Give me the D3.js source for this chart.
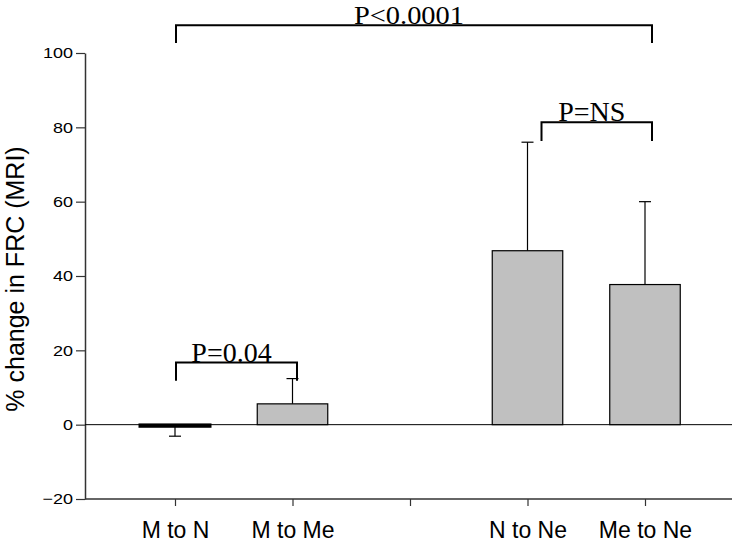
<!DOCTYPE html>
<html>
<head>
<meta charset="utf-8">
<script src="https://cdn.jsdelivr.net/npm/d3@7"></script>
<style>
  body { margin: 0; background: #fff; }
  svg { display: block; }
</style>
</head>
<body>
<script>
// bar groups (the empty one is the gap between the two pairs)
var categories = ["M to N", "M to Me", "", "N to Ne", "Me to Ne"];
var means = [-0.5, 5.6, null, 46.8, 37.7];
var errors = [2.6, 6.8, null, 29.2, 22.3];

var yTicks = [-20, 0, 20, 40, 60, 80, 100];

// significance brackets: which groups, bracket level and leg end (in % units)
var bracketLabels = ["P<0.0001", "P=NS", "P=0.04"];
var bracketFrom = ["M to N", "N to Ne", "M to N"];
var bracketTo = ["Me to Ne", "Me to Ne", "M to Me"];
var bracketTop = [107.5, 81.4, 16.7];
var bracketLeg = [102.7, 76.3, 11.8];

var width = 732, height = 543;

var svg = d3.select("body").append("svg")
  .attr("width", width)
  .attr("height", height);

var x = d3.scalePoint()
  .domain(categories)
  .range([116.25, 703.75])
  .padding(0.5);

var y = d3.scaleLinear()
  .domain([-20, 100])
  .range([499, 53]);

var barW = x.step() * 0.6;

// y axis
var yAxis = svg.append("g")
  .attr("transform", "translate(85,0)")
  .call(d3.axisLeft(y).tickValues(yTicks).tickSize(9).tickSizeOuter(0).tickPadding(3));
yAxis.select(".domain").attr("stroke", "#333").attr("stroke-width", 1.5);
yAxis.selectAll(".tick line").attr("stroke", "#333").attr("stroke-width", 1.2);
yAxis.selectAll(".tick text")
  .attr("font-family", "Liberation Sans, Arial, sans-serif")
  .attr("font-size", 15)
  .attr("fill", "#000")
  .attr("x", -12 / 1.2)
  .attr("transform", "scale(1.2,1)");

// x axis
var xAxis = svg.append("g")
  .attr("transform", "translate(0,499)")
  .call(d3.axisBottom(x).tickSize(7).tickSizeOuter(0).tickPadding(16));
xAxis.select(".domain").remove();
xAxis.append("line")
  .attr("x1", 85).attr("x2", width)
  .attr("stroke", "#333").attr("stroke-width", 1.5);
xAxis.selectAll(".tick line").attr("stroke", "#333").attr("stroke-width", 1.2);
xAxis.selectAll(".tick text")
  .attr("font-family", "Liberation Sans, Arial, sans-serif")
  .attr("font-size", 23)
  .attr("fill", "#000");

// zero line
svg.append("line")
  .attr("x1", 85).attr("x2", width)
  .attr("y1", y(0)).attr("y2", y(0))
  .attr("stroke", "#000").attr("stroke-width", 1);

// y label
svg.append("text")
  .attr("transform", "translate(24," + 279 + ") rotate(-90)")
  .attr("text-anchor", "middle")
  .attr("font-family", "Liberation Sans, Arial, sans-serif")
  .attr("font-size", 25)
  .text("% change in FRC (MRI)");

var rows = categories.map(function(c, i) {
  return { cat: c, mean: means[i], err: errors[i] };
}).filter(function(d) { return d.mean !== null; });

// error bars (one-sided, away from zero)
var eb = svg.append("g").attr("stroke", "#000").attr("stroke-width", 1.2);
rows.forEach(function(d) {
  var cx = x(d.cat);
  var end = d.mean >= 0 ? d.mean + d.err : d.mean - d.err;
  eb.append("line")
    .attr("x1", cx).attr("x2", cx)
    .attr("y1", y(d.mean)).attr("y2", y(end));
  eb.append("line")
    .attr("x1", cx - 6).attr("x2", cx + 6)
    .attr("y1", y(end)).attr("y2", y(end));
});

// bars
svg.append("g").selectAll("rect")
  .data(rows)
  .enter().append("rect")
  .attr("x", function(d) { return x(d.cat) - barW / 2; })
  .attr("width", barW)
  .attr("y", function(d) { return y(Math.max(0, d.mean)); })
  .attr("height", function(d) { return Math.abs(y(d.mean) - y(0)); })
  .attr("fill", "#c0c0c0")
  .attr("stroke", "#000")
  .attr("stroke-width", function(d) { return d.mean < 0 ? 2.5 : 1.2; });

// brackets
var legShift = [[1, 7], [14, 7], [1, 4.5]];
bracketLabels.forEach(function(lab, i) {
  var x1 = x(bracketFrom[i]) + legShift[i][0];
  var x2 = x(bracketTo[i]) + legShift[i][1];
  var yt = y(bracketTop[i]), yl = y(bracketLeg[i]);
  svg.append("path")
    .attr("d", "M" + x1 + "," + yl + "V" + yt + "H" + x2 + "V" + yl)
    .attr("fill", "none")
    .attr("stroke", "#000")
    .attr("stroke-width", 2);
  var t = svg.append("text")
    .attr("x", (x1 + x2) / 2 - 5)
    .attr("y", yt - 1)
    .attr("text-anchor", "middle")
    .attr("font-family", "Liberation Serif, Times New Roman, serif")
    .attr("font-size", i === 0 ? 26 : 28)
    .text(lab);
  // the top label sits against the page edge, so keep it a bit smaller but as wide
  if (i === 0) t.attr("textLength", 110).attr("lengthAdjust", "spacingAndGlyphs");
});
</script>
</body>
</html>
